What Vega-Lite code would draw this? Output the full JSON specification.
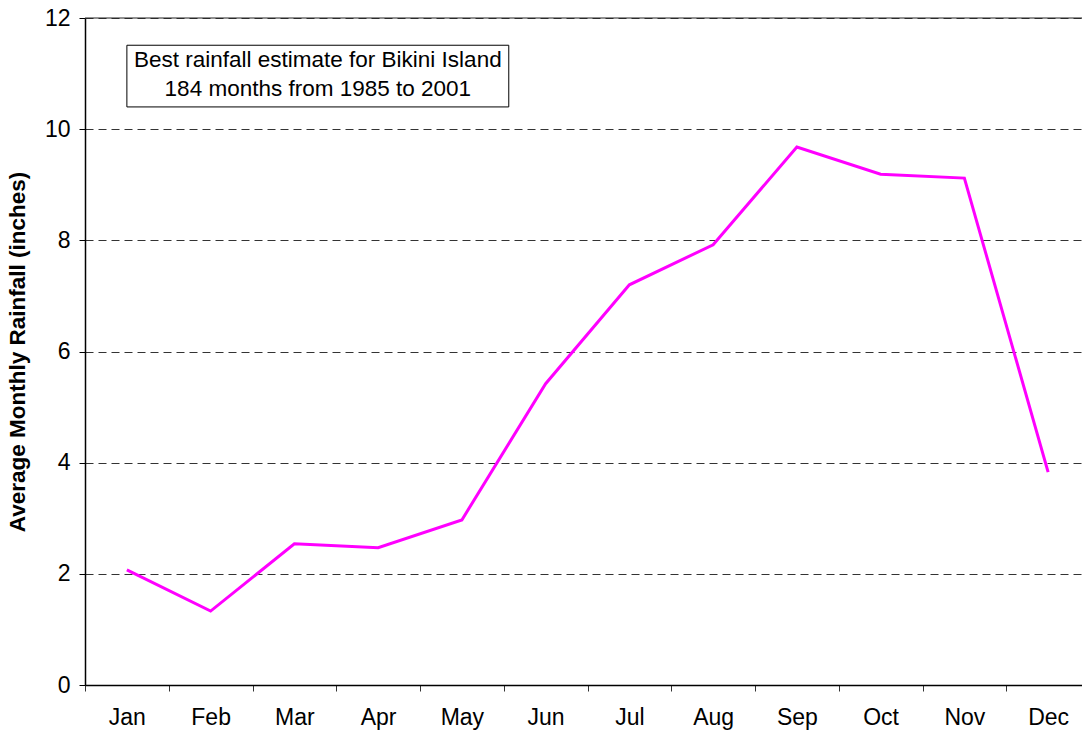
{
  "$schema": "https://vega.github.io/schema/vega-lite/v6.json",
  "width": 1005,
  "height": 667,
  "autosize": {"type": "none"},
  "padding": {"left": 85, "top": 18, "right": 0, "bottom": 51},
  "background": "white",
  "config": {
    "view": {"stroke": null},
    "font": "Liberation Sans",
    "axis": {"labelFont": "Liberation Sans", "titleFont": "Liberation Sans"}
  },
  "datasets": {
    "rain": [
      {"month": "Jan", "rain": 2.07},
      {"month": "Feb", "rain": 1.33},
      {"month": "Mar", "rain": 2.54},
      {"month": "Apr", "rain": 2.47},
      {"month": "May", "rain": 2.97},
      {"month": "Jun", "rain": 5.42},
      {"month": "Jul", "rain": 7.2},
      {"month": "Aug", "rain": 7.92},
      {"month": "Sep", "rain": 9.68},
      {"month": "Oct", "rain": 9.19},
      {"month": "Nov", "rain": 9.12},
      {"month": "Dec", "rain": 3.83}
    ],
    "box": [
      {"x1": 0.5, "x2": 5.06, "y1": 11.51, "y2": 10.4}
    ],
    "notes": [
      {"x": 2.78, "y": 11.24, "label": "Best rainfall estimate for Bikini Island"},
      {"x": 2.78, "y": 10.73, "label": "184 months from 1985 to 2001"}
    ]
  },
  "layer": [
    {
      "data": {"name": "rain"},
      "mark": {"type": "line", "color": "#FF00FF", "strokeWidth": 3},
      "encoding": {
        "x": {
          "field": "month",
          "type": "ordinal",
          "sort": null,
          "scale": {"type": "band", "paddingInner": 0, "paddingOuter": 0},
          "axis": {
            "title": null,
            "labelAngle": 0,
            "labelFontSize": 23,
            "labelColor": "black",
            "labelPadding": 15,
            "tickBand": "extent",
            "tickSize": 6,
            "tickColor": "#333333",
            "domainColor": "black",
            "domainWidth": 1.5,
            "grid": false
          }
        },
        "y": {
          "field": "rain",
          "type": "quantitative",
          "scale": {"domain": [0, 12], "nice": false},
          "axis": {
            "title": "Average Monthly Rainfall (inches)",
            "titleFontSize": 22.5,
            "titleFontWeight": "bold",
            "titleColor": "black",
            "titlePadding": 15,
            "values": [0, 2, 4, 6, 8, 10, 12],
            "format": "d",
            "labelFontSize": 23,
            "labelColor": "black",
            "labelPadding": 9,
            "tickSize": 6,
            "tickColor": "black",
            "domainColor": "black",
            "domainWidth": 1.5,
            "grid": true,
            "gridColor": "#333333",
            "gridDash": [8, 5],
            "gridWidth": 1
          }
        }
      }
    },
    {
      "data": {"values": [{"v": 12}]},
      "mark": {"type": "rule", "color": "#222222", "strokeWidth": 1},
      "encoding": {"y": {"field": "v", "type": "quantitative"}}
    },
    {
      "data": {"name": "box"},
      "mark": {"type": "rect", "fill": "white", "stroke": "black", "strokeWidth": 1},
      "encoding": {
        "x": {"field": "x1", "type": "quantitative", "scale": {"domain": [0, 12], "nice": false}, "axis": null},
        "x2": {"field": "x2"},
        "y": {"field": "y1", "type": "quantitative"},
        "y2": {"field": "y2"}
      }
    },
    {
      "data": {"name": "notes"},
      "mark": {"type": "text", "fontSize": 22.5, "color": "black", "align": "center", "baseline": "middle", "font": "Liberation Sans"},
      "encoding": {
        "x": {"field": "x", "type": "quantitative", "scale": {"domain": [0, 12], "nice": false}, "axis": null},
        "y": {"field": "y", "type": "quantitative"},
        "text": {"field": "label"}
      }
    }
  ],
  "resolve": {"scale": {"x": "independent"}}
}
